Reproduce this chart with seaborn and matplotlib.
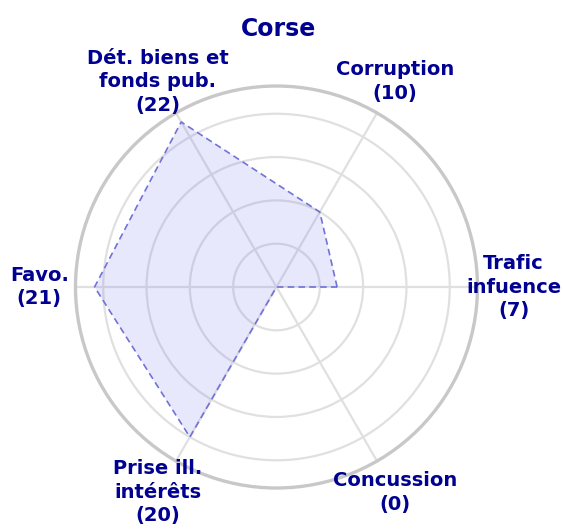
import numpy as np
import pandas as pd
import matplotlib
matplotlib.use("Agg")
import matplotlib.pyplot as plt
import seaborn as sns

# ── data ────────────────────────────────────────────────────────────────
title = "Corse"
categories = [
    "Trafic\ninfuence",
    "Corruption",
    "Dét. biens et\nfonds pub.",
    "Favo.",
    "Prise ill.\nintérêts",
    "Concussion",
]
values = [7, 10, 22, 21, 20, 0]
r_max = 23.2
ring_ticks = [5, 10, 15, 20]

# ── style ───────────────────────────────────────────────────────────────
navy = "#000091"
accent = "#6a6af4"
grid_grey = "#e0e0e0"
outer_grey = "#c8c8c8"

sns.set_theme(style="white")
plt.rcParams["font.family"] = ["DejaVu Sans"]

angles = np.linspace(0, 2 * np.pi, len(categories), endpoint=False)
df = pd.DataFrame({
    "theta": np.append(angles, 2 * np.pi),
    "value": values + values[:1],
})

fig = plt.figure(figsize=(5.63, 5.32), dpi=100)
ax = fig.add_axes([0.1341, 0.0827, 0.714, 0.7556], projection="polar")

ax.fill(df["theta"], df["value"], color=accent, alpha=0.15, linewidth=0, zorder=2)
sns.lineplot(data=df, x="theta", y="value", sort=False, estimator=None,
             color="#7272d8", linestyle=(0, (4, 2.5)), linewidth=1.2, ax=ax, zorder=3)

ax.set_ylim(0, r_max)
ax.set_yticks(ring_ticks)
ax.set_yticklabels([])
ax.set_xticks(angles)
ax.set_xticklabels([])
ax.set_xlabel("")
ax.set_ylabel("")
ax.grid(True, color=grid_grey, linewidth=1.6)
ax.spines["polar"].set_color(outer_grey)
ax.spines["polar"].set_linewidth(2.4)
ax.set_facecolor("white")

# category labels with their counts, outside the outer ring
for ang, cat, val in zip(angles, categories, values):
    ax.text(ang, r_max * 1.18, f"{cat}\n({val})", ha="center", va="center",
            color=navy, fontsize=14, fontweight="bold", linespacing=1.3,
            clip_on=False)

fig.text(0.494, 1 - 29 / 532, title, ha="center", va="center",
         color=navy, fontsize=17, fontweight="bold")

fig.savefig("out.png", dpi=100)
